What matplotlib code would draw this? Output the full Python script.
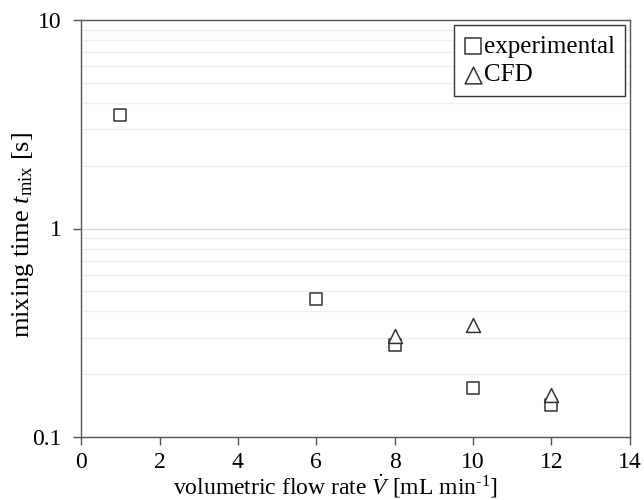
import numpy as np
import matplotlib
matplotlib.use("Agg")
import matplotlib.pyplot as plt
from matplotlib.ticker import FixedLocator, FixedFormatter, LogLocator, NullFormatter

# ==============================
# DATA
# ==============================
exp_flow = [1, 6, 8, 10, 12]
exp_tmix = [3.5, 0.46, 0.277, 0.172, 0.143]

cfd_flow = [8, 10, 12]
cfd_tmix = [0.306, 0.345, 0.159]

x_ticks = [0, 2, 4, 6, 8, 10, 12, 14]
y_ticks = [0.1, 1, 10]
y_tick_labels = ["0.1", "1", "10"]

# ==============================
# STYLE
# ==============================
plt.rcParams["font.family"] = ["Liberation Serif", "DejaVu Serif"]
plt.rcParams["mathtext.fontset"] = "custom"
plt.rcParams["mathtext.rm"] = "Liberation Serif"
plt.rcParams["mathtext.it"] = "Liberation Serif:italic"

fig = plt.figure(figsize=(6.44, 5.0), dpi=100)
ax = fig.add_axes([0.126, 0.126, 0.852, 0.834])

ax.scatter(exp_flow, exp_tmix, marker="s", s=85, facecolors="white",
           edgecolors="#333333", linewidths=1.1, label="experimental", zorder=3)
ax.scatter(cfd_flow, cfd_tmix, marker="^", s=100, facecolors="white",
           edgecolors="#333333", linewidths=1.1, label="CFD", zorder=3)

ax.set_yscale("log")
ax.set_xlim(0, 14)
ax.set_ylim(0.1, 10)

ax.xaxis.set_major_locator(FixedLocator(x_ticks))
ax.yaxis.set_major_locator(FixedLocator(y_ticks))
ax.yaxis.set_major_formatter(FixedFormatter(y_tick_labels))
ax.yaxis.set_minor_locator(LogLocator(base=10, subs=np.arange(2, 10)))
ax.yaxis.set_minor_formatter(NullFormatter())
ax.tick_params(axis="y", which="minor", length=0)
ax.tick_params(axis="both", which="major", direction="out", length=6,
               width=1, color="#555555", labelsize=17)
ax.tick_params(axis="y", which="major", pad=8)
ax.tick_params(axis="x", which="major", pad=5)

ax.grid(True, axis="y", which="major", color="#d9d9d9", linewidth=1)
ax.grid(True, axis="y", which="minor", color="#eeeeee", linewidth=1)
ax.set_axisbelow(True)

for side in ["left", "bottom", "right", "top"]:
    ax.spines[side].set_color("#555555")
    ax.spines[side].set_linewidth(1)

ax.set_xlabel(r"volumetric flow rate $\dot{V}$ [mL min$^{\text{-}1}$]",
              fontsize=17)
ax.xaxis.set_label_coords(0.463, -0.086)
ax.set_ylabel(r"mixing time $t_{\mathrm{mix}}$ [s]", fontsize=19)
ax.yaxis.set_label_coords(-0.082, 0.485)

leg = ax.legend(loc="upper right", fontsize=18, frameon=True, fancybox=False,
                handlelength=0.75, handletextpad=0.05, borderpad=0.4,
                labelspacing=0.25, borderaxespad=0.2, framealpha=1,
                markerscale=1.2)
leg.get_frame().set_edgecolor("#333333")
leg.get_frame().set_linewidth(1)

fig.savefig("out.png", dpi=100)
